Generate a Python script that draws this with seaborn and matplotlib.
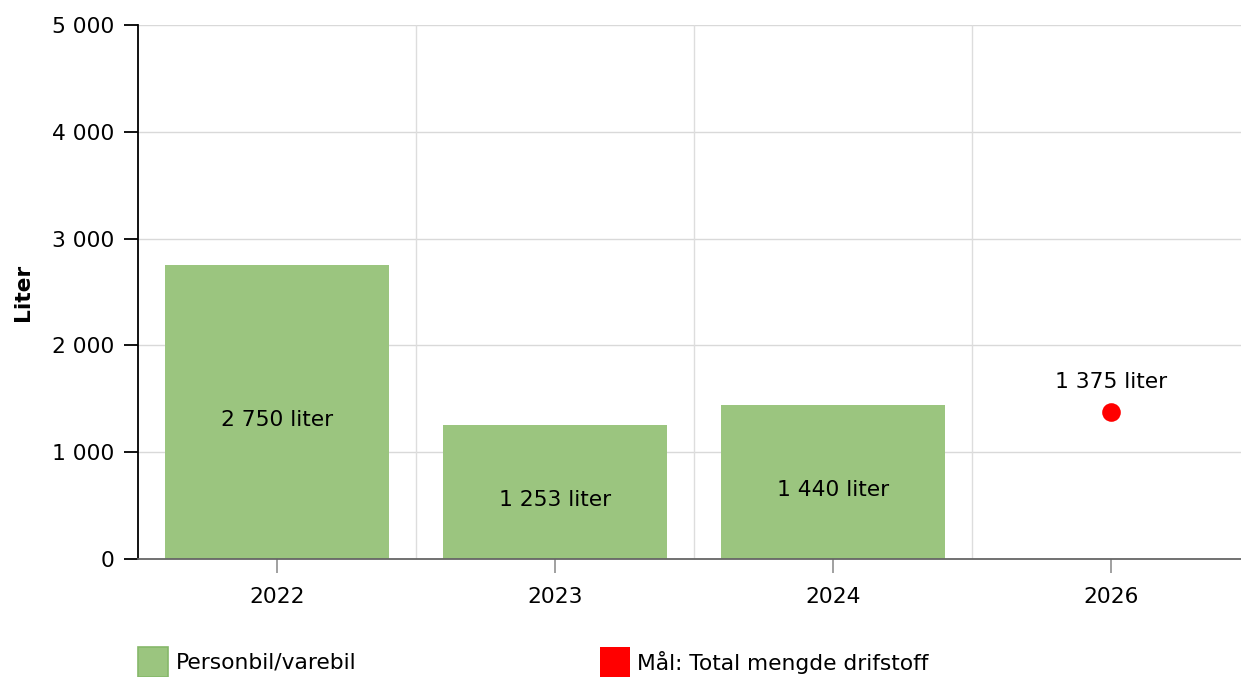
import matplotlib
matplotlib.use("Agg")
import matplotlib.pyplot as plt
import seaborn as sns
import pandas as pd
import numpy as np
from matplotlib.ticker import FuncFormatter, FixedLocator
from matplotlib.patches import Rectangle

years = ["2022", "2023", "2024", "2026"]
bar_values = [2750, 1253, 1440, np.nan]
target_year = "2026"
target_value = 1375
y_ticks = [0, 1000, 2000, 3000, 4000, 5000]
bar_label = "Personbil/varebil"
target_label = "Mål: Total mengde drifstoff"
y_title = "Liter"

GREEN = "#9bc57f"
RED = "#ff0000"

def fmt(v):
    return f"{int(round(v)):,}".replace(",", " ")

sns.set_theme(style="white")
plt.rcParams["font.family"] = ["DejaVu Sans"]

W, H = 1241, 677
fig = plt.figure(figsize=(W / 100, H / 100), dpi=100)
ax = fig.add_axes([138 / W, 1 - 559 / H, (1250 - 138) / W, (559 - 25) / H])

df = pd.DataFrame({"year": years, "value": bar_values})
sns.barplot(data=df, x="year", y="value", order=years, color=GREEN,
            saturation=1, width=0.806, ax=ax, linewidth=0, errorbar=None)

xi = years.index(target_year)
sns.scatterplot(x=[xi], y=[target_value], ax=ax, color=RED, s=180,
                linewidth=0, zorder=5)

ax.set_xlim(-0.5, len(years) - 0.5)
ax.set_ylim(0, 5000)
ax.yaxis.set_major_locator(FixedLocator(y_ticks))
ax.yaxis.set_major_formatter(FuncFormatter(lambda v, p: fmt(v)))

# grid
for y in y_ticks[1:]:
    ax.axhline(y, color="#d9d9d9", lw=1, zorder=0)
for x in np.arange(0.5, len(years) - 0.5, 1):
    ax.axvline(x, color="#dddddd", lw=1, zorder=0)

LS = 15.7
# labels
for i, v in enumerate(bar_values):
    if not np.isnan(v):
        ax.text(i, v / 2 - 70, f"{fmt(v)} liter", ha="center", va="center",
                fontsize=LS, color="#000000", zorder=6)
ax.annotate(f"{fmt(target_value)} liter", (xi, target_value), xytext=(0, 22),
            textcoords="offset points", ha="center", va="center",
            fontsize=LS, color="#000000", zorder=6)

# spines
for s in ["top", "right"]:
    ax.spines[s].set_visible(False)
ax.spines["left"].set_color("#000000")
ax.spines["left"].set_linewidth(1.3)
ax.spines["bottom"].set_color("#666666")
ax.spines["bottom"].set_linewidth(1.3)

ax.tick_params(axis="y", direction="out", length=10, width=1.3, color="#000000",
               labelsize=LS, labelcolor="#000000", pad=7, left=True)
ax.tick_params(axis="x", direction="out", length=10, width=1.3, color="#999999",
               labelsize=LS, labelcolor="#000000", pad=10, bottom=True)
ax.set_xlabel("")
ax.set_ylabel(y_title, fontsize=LS, fontweight="bold", labelpad=14, color="#000000")

# legend (bottom)
fig.patches.append(Rectangle((138 / W, 0), 30 / W, 30 / H,
                             transform=fig.transFigure, facecolor=GREEN,
                             edgecolor="#86b86a", lw=1.2))
fig.text(176 / W, 1 - 663 / H, bar_label, fontsize=LS, va="center", ha="left",
         color="#000000")
fig.patches.append(Rectangle((600 / W, 0), 30 / W, 30 / H,
                             transform=fig.transFigure, facecolor=RED,
                             edgecolor=RED, lw=0))
fig.text(637 / W, 1 - 663 / H, target_label, fontsize=LS, va="center", ha="left",
         color="#000000")

fig.savefig("out.png", dpi=100)
